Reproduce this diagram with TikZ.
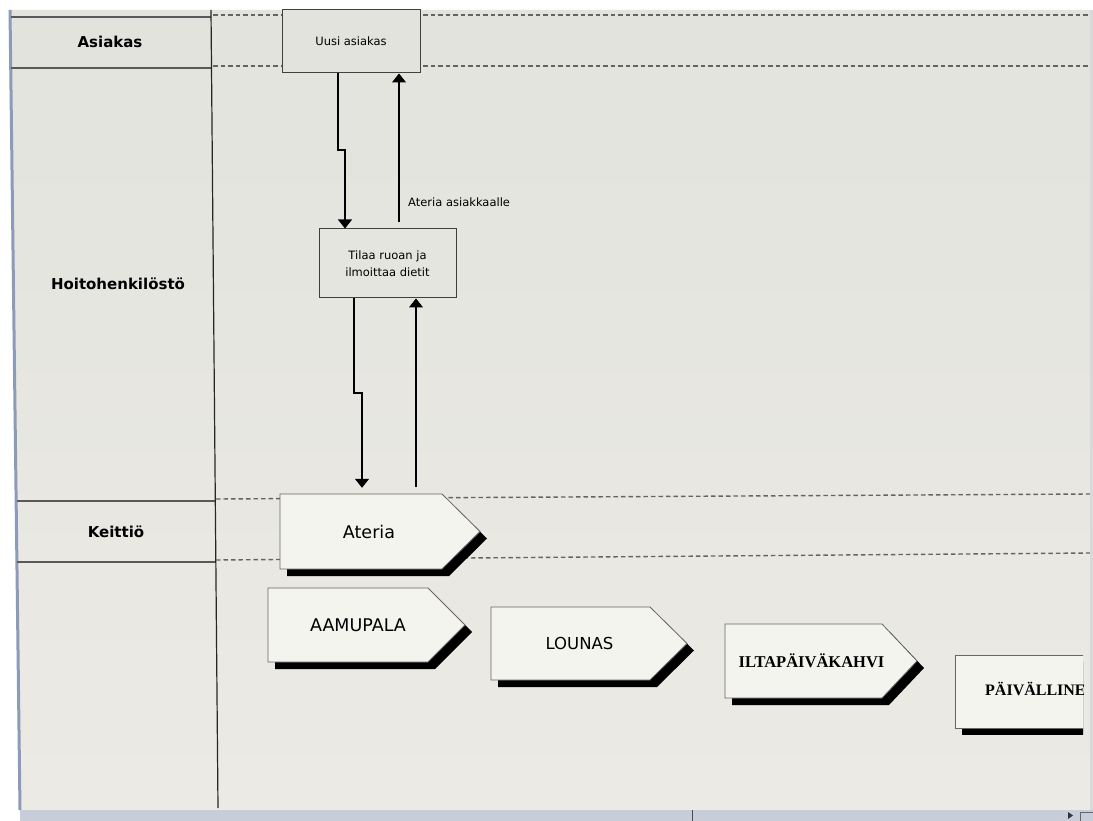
\documentclass[tikz,border=0pt]{standalone}
\usepackage{fontspec}
\setmainfont{DejaVu Sans}
\newfontfamily\serfont{Liberation Serif}
\usetikzlibrary{arrows.meta,calc}
\definecolor{screentop}{RGB}{226,227,221}
\definecolor{screenbot}{RGB}{236,234,229}
\definecolor{screen}{RGB}{229,229,223}
\definecolor{paper}{RGB}{244,244,238}
\definecolor{dashgray}{RGB}{100,100,100}
\definecolor{barblue}{RGB}{200,205,218}
\definecolor{edgeblue}{RGB}{140,155,185}

% name, left, top, body right, tip x, bottom, text, font, text xshift
\newcommand\pentashape[9]{%
  \fill[black] ({#2+7},{#3+7}) -- ({#4+7},{#3+7}) -- ({#5+7},{(#3+#6)/2+7}) -- ({#4+7},{#6+7}) -- ({#2+7},{#6+7}) -- cycle;
  \draw[outline] (#2,#3) -- (#4,#3) -- (#5,{(#3+#6)/2}) -- (#4,#6) -- (#2,#6) -- cycle;
  \node[body, minimum width={(#4-#2)*1pt}, minimum height={(#6-#3)*1pt}] (#1) at ({(#2+#4)/2},{(#3+#6)/2}) {};
  \node[font={#8}, inner sep=0pt, xshift=#9pt] (#1-txt) at (#1.center) {#7};
}

\begin{document}
\begin{tikzpicture}[x=1pt,y=-1pt,
  lane/.style={font=\bfseries\fontsize{15}{17}\selectfont, inner sep=0pt},
  procbox/.style={draw=black!75, fill=screentop, line width=1pt, font=\fontsize{11.5}{17}\selectfont, align=center, inner sep=0pt},
  flow/.style={draw=black, line width=1.1pt, -{Triangle[width=14pt,length=9pt]}},
  lanesep/.style={draw=dashgray, dash pattern=on 4.5pt off 3pt, line width=1.4pt},
  solidsep/.style={draw=black!65, line width=1.4pt},
  body/.style={inner sep=0pt},
  outline/.style={draw=black!60, fill=paper, line width=0.8pt},
  flowlabel/.style={font=\fontsize{11.5}{13}\selectfont, inner sep=0pt}
]
\useasboundingbox (0,0) rectangle (1093,821);
\fill[white] (0,0) rectangle (1093,821);
% screen area
\shade[top color=screentop, bottom color=screenbot] (10,10) -- (1090,10) -- (1090,810) -- (20,810) -- cycle;
\draw[edgeblue, line width=3pt] (10,10) -- (20,810);

% lane separators in the left column
\draw[solidsep] (11,17) -- (211,17);
\draw[solidsep] (11,68) -- (211,68);
\draw[solidsep] (17,501) -- (216,501);
\draw[solidsep] (17,562) -- (216,562);
% column divider
\draw[black!85, line width=1.2pt] (211,10) -- (218,808);

% dashed lane lines
\draw[lanesep] (213,15) -- (1090,15);
\draw[lanesep] (213,66) -- (1090,66);
\draw[lanesep] (216,499) -- (1090,494);
\draw[lanesep] (216,560) -- (1090,553);

% lane labels
\node[lane] (asiakas) at (110,42) {Asiakas};
\node[lane] (hoito) at (118,284) {Hoitohenkilöstö};
\node[lane] (keittio) at (116,532) {Keittiö};

% process boxes
\node[procbox, minimum width=138pt, minimum height=63pt] (uusi) at (351,41.5) {Uusi asiakas};
\node[procbox, minimum width=137pt, minimum height=69pt, fill=screen] (tilaa) at (387.5,263.5) {Tilaa ruoan ja\\ilmoittaa dietit};

% pentagons
\pentashape{ateria}{280}{494}{442}{480}{569}{Ateria}{\fontsize{17.5}{20}\selectfont}{8}
\pentashape{aamupala}{268}{588}{428}{465}{662}{AAMUPALA}{\fontsize{17.5}{20}\selectfont}{10}
\pentashape{lounas}{491}{607}{650}{687}{680}{LOUNAS}{\fontsize{16.5}{20}\selectfont}{9}
\pentashape{ilta}{725}{624}{882}{917}{698}{ILTAPÄIVÄKAHVI}{\serfont\bfseries\fontsize{16.5}{20}\selectfont}{8}
\begin{scope}
  \clip (0,0) rectangle (1083,821);
  \fill[black] (962,662) rectangle (1200,735);
  \draw[outline] (955,655) rectangle (1200,728);
  \node[body, minimum width=245pt, minimum height=73pt] (paiva) at (1077.5,691.5) {};
  \node[font=\serfont\bfseries\fontsize{16}{20}\selectfont, inner sep=0pt, anchor=west] (paiva-txt) at (985,689) {PÄIVÄLLINE};
\end{scope}

% connectors
\coordinate (j1a) at (338,150);
\coordinate (j1b) at (345,150);
\draw[flow] (uusi.south -| j1a) -- (j1a) -- (j1b) -- (tilaa.north -| j1b);
\coordinate (u1) at (399,0);
\draw[flow, shorten <=6pt] (tilaa.north -| u1) -- (uusi.south -| u1);
\node[flowlabel, anchor=west] (lbl) at (408,202) {Ateria asiakkaalle};
\coordinate (j2a) at (354,393);
\coordinate (j2b) at (362,393);
\draw[flow, shorten >=6pt] (tilaa.south -| j2a) -- (j2a) -- (j2b) -- (ateria.north -| j2b);
\coordinate (u2) at (416,0);
\draw[flow, shorten <=7pt] (ateria.north -| u2) -- (tilaa.south -| u2);

% bottom scroll bar and right edge
\fill[barblue] (20,810) rectangle (1093,821);
\draw[black!70, line width=1pt] (692,810) -- (692,821);
\fill[black!80] (1068,812) -- (1073,815.5) -- (1068,819) -- cycle;
\draw[black!60, line width=0.8pt] (1080,821) -- (1080,812) -- (1093,812);
\fill[black!15] (1090,10) rectangle (1093,810);
\end{tikzpicture}
\end{document}
